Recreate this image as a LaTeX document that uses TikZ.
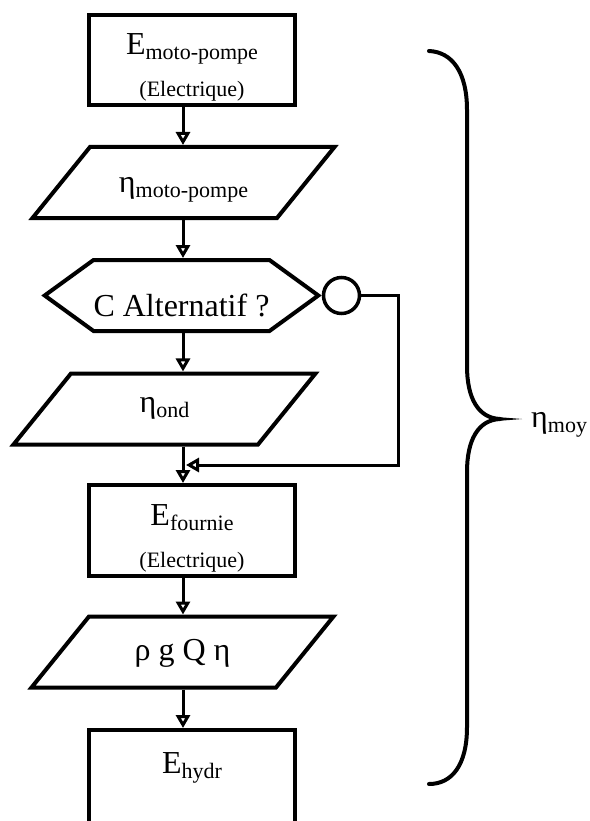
\documentclass[tikz,border=0pt]{standalone}
\usepackage{fontspec}
\setmainfont{Liberation Serif}
\usetikzlibrary{arrows.meta,shapes.geometric,shapes.symbols}
\newcommand{\indice}[1]{\raisebox{-5pt}{\fontsize{22}{24}\selectfont #1}}
\newcommand{\petit}{\fontsize{22}{24}\selectfont}

\begin{document}
\begin{tikzpicture}[x=1pt, y=-1pt,
	box/.style={rectangle, draw, line width=4pt, minimum width=206, minimum height=90, inner sep=0pt, font=\fontsize{32}{36}\selectfont},
	para/.style={trapezium, trapezium left angle=51, trapezium right angle=129, trapezium stretches body, draw, line width=4pt, minimum width=302, inner sep=0pt, font=\fontsize{32}{36}\selectfont},
	hexa/.style={signal, signal to=west and east, signal pointer angle=72, draw, line width=4pt, minimum width=256, minimum height=71, inner sep=0pt, font=\fontsize{32}{36}\selectfont},
	note/.style={anchor=base, inner sep=0pt, font=\petit},
	flow/.style={line width=3pt, -{Triangle[open, length=13pt, width=14pt]}},
	brace/.style={line width=4pt, line cap=round}]
	\clip (0,0) rectangle (589,821);

	% Define the nodes of the chain
	\coordinate (axis) at (183,0);
	\node[box, text height=0pt, text depth=10pt] (r1) at (192, 60) {E\indice{moto-pompe}};
	\node[note] (e1) at (192, 97) {(Electrique)};
	\node[para, text height=46pt, text depth=25pt] (p2) at (183.5, 182.5) {η\indice{moto-pompe}};
	\node[hexa, text height=41pt, text depth=0pt] (h3) at (181.5, 295.5) {C Alternatif ?};
	\node[circle, draw, line width=3.5pt, minimum size=36, inner sep=0pt, anchor=west] (c3) at (h3.east) {};
	\node[para, text height=38.5pt, text depth=32.5pt] (p4) at (164.5, 409) {η\indice{ond}};
	\node[box, minimum height=91, text height=0pt, text depth=11pt] (r5) at (192, 530.5) {E\indice{fournie}};
	\node[note] (e5) at (192, 567) {(Electrique)};
	\node[para, text height=43.5pt, text depth=27.5pt] (p6) at (182.5, 652) {ρ g Q η};
	\node[box, minimum height=100, text height=0pt, text depth=14pt] (r7) at (192, 780) {E\indice{hydr}};
	\coordinate (j) at (186, 465);

	% Draw the arrows between nodes
	\draw[flow] (r1.south -| axis) -- (p2.north -| axis);
	\draw[flow] (p2.south -| axis) -- (h3.north -| axis);
	\draw[flow] (h3.south -| axis) -- (p4.north -| axis);
	\draw[flow] (p4.south -| axis) -- (r5.north -| axis);
	\draw[flow] (r5.south -| axis) -- (p6.north -| axis);
	\draw[flow] (p6.south -| axis) -- (r7.north -| axis);
	\draw[flow] (c3.east) -- ++(37,0) |- (j);

	% Brace and its label
	\draw[brace] (429,51) .. controls (452,52) and (467,72) .. (467,110) -- (467,366)
		.. controls (467,398) and (478,418) .. (500,419);
	\draw[brace] (500,419) .. controls (478,420) and (467,440) .. (467,472) -- (467,727)
		.. controls (467,765) and (452,784) .. (429,784);
	\fill (497,417) -- (522,419) -- (497,421) -- cycle;
	\node[anchor=base west, font=\fontsize{32}{36}\selectfont, inner sep=0pt] (moy) at (531, 427) {η\indice{moy}};
\end{tikzpicture}
\end{document}
